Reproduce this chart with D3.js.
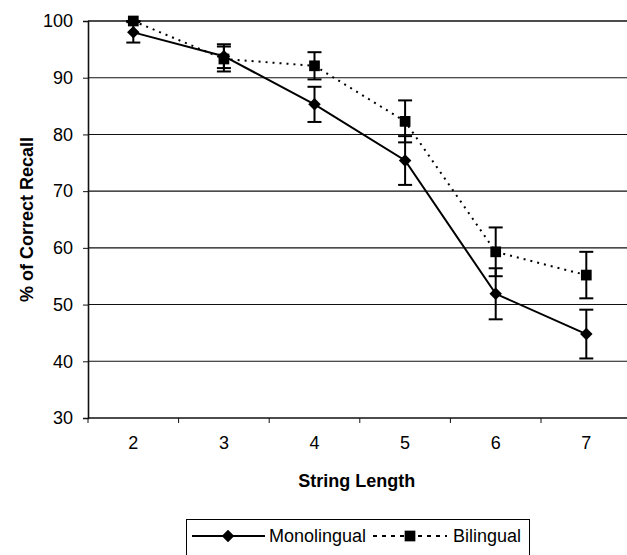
<!DOCTYPE html>
<html>
<head>
<meta charset="utf-8">
<script src="https://cdn.jsdelivr.net/npm/d3@7/dist/d3.min.js"></script>
<style>
  html, body { margin: 0; padding: 0; background: #fff; }
  svg { display: block; font-family: "Liberation Sans", Arial, sans-serif; }
</style>
</head>
<body>
<svg id="chart" width="627" height="555"></svg>
<script>
// string lengths on the x axis
const categories = [2, 3, 4, 5, 6, 7];
// % of correct recall
const monolingual = [98, 93.8, 85.3, 75.4, 51.9, 44.8];
const monolingualErr = [1.8, 2.1, 3.1, 4.3, 4.5, 4.3];
const bilingual = [100, 93.3, 92.1, 82.3, 59.3, 55.2];
const bilingualErr = [0, 2.2, 2.4, 3.7, 4.3, 4.1];
const yTicks = [30, 40, 50, 60, 70, 80, 90, 100];

const svg = d3.select('#chart');

const plotLeft = 88, plotRight = 631.6, plotTop = 21, plotBottom = 418;

const x = d3.scaleBand().domain(categories).range([plotLeft, plotRight]);
const y = d3.scaleLinear().domain([30, 100]).range([plotBottom, plotTop]);
const cx = d => x(d) + x.bandwidth() / 2;

// horizontal gridlines
svg.append('g')
  .selectAll('line')
  .data(yTicks)
  .enter()
  .append('line')
    .attr('x1', plotLeft)
    .attr('x2', plotRight)
    .attr('y1', d => y(d))
    .attr('y2', d => y(d))
    .attr('stroke', '#111')
    .attr('stroke-width', d => (d === 100 || d === 30) ? 1.6 : 1.1);

// y axis
const yAxis = svg.append('g')
  .attr('transform', `translate(${plotLeft},0)`)
  .call(d3.axisLeft(y).tickValues(yTicks).tickSize(5).tickPadding(10));
yAxis.select('.domain').attr('stroke', '#111').attr('stroke-width', 1.6);
yAxis.selectAll('.tick line').attr('stroke', '#111');
yAxis.selectAll('text')
  .attr('font-size', 18)
  .attr('font-family', '"Liberation Sans", Arial, sans-serif')
  .attr('fill', '#000');

// x axis: labels centred in bands, ticks on band edges
const xAxis = svg.append('g')
  .attr('transform', `translate(0,${plotBottom})`)
  .call(d3.axisBottom(x).tickSize(0).tickPadding(18));
xAxis.select('.domain').remove();
xAxis.selectAll('text')
  .attr('font-size', 18)
  .attr('font-family', '"Liberation Sans", Arial, sans-serif')
  .attr('fill', '#000');

const edges = categories.map(d => x(d)).concat([plotRight]);
svg.append('g')
  .selectAll('line')
  .data(edges)
  .enter()
  .append('line')
    .attr('x1', d => d)
    .attr('x2', d => d)
    .attr('y1', plotBottom)
    .attr('y2', plotBottom + 5)
    .attr('stroke', '#111');

// axis titles
svg.append('text')
  .attr('x', (plotLeft + plotRight) / 2 - 3)
  .attr('y', 487)
  .attr('text-anchor', 'middle')
  .attr('font-size', 18)
  .attr('font-weight', 'bold')
  .text('String Length');

svg.append('text')
  .attr('transform', `translate(33,${(plotTop + plotBottom) / 2}) rotate(-90)`)
  .attr('text-anchor', 'middle')
  .attr('font-size', 18)
  .attr('font-weight', 'bold')
  .text('% of Correct Recall');

const series = [
  { name: 'Bilingual', values: bilingual, err: bilingualErr, dash: '2,5', symbol: 'square' },
  { name: 'Monolingual', values: monolingual, err: monolingualErr, dash: null, symbol: 'diamond' }
];

const square = d3.symbol().type(d3.symbolSquare).size(115);
const diamond = d3.symbol().type(d3.symbolSquare).size(78);

function drawMarker(g, type, px, py) {
  g.append('path')
    .attr('d', type === 'square' ? square() : diamond())
    .attr('transform', `translate(${px},${py})` + (type === 'diamond' ? ' rotate(45)' : ''))
    .attr('fill', '#000');
}

series.forEach(s => {
  const g = svg.append('g');
  const pts = categories.map((c, i) => ({ c, v: s.values[i], e: s.err[i] }));

  g.append('path')
    .datum(pts)
    .attr('fill', 'none')
    .attr('stroke', '#000')
    .attr('stroke-width', 2)
    .attr('stroke-dasharray', s.dash)
    .attr('d', d3.line().x(d => cx(d.c)).y(d => y(d.v)));

  // error bars
  pts.forEach(d => {
    const px = cx(d.c);
    const y1 = y(Math.min(100, d.v + d.e)), y2 = y(d.v - d.e);
    g.append('line').attr('x1', px).attr('x2', px).attr('y1', y1).attr('y2', y2)
      .attr('stroke', '#000').attr('stroke-width', 2);
    [y1, y2].forEach(yy => {
      g.append('line').attr('x1', px - 7).attr('x2', px + 7).attr('y1', yy).attr('y2', yy)
        .attr('stroke', '#000').attr('stroke-width', 2);
    });
  });

  pts.forEach(d => drawMarker(g, s.symbol, cx(d.c), y(d.v)));
});

// legend
const lg = svg.append('g');
lg.append('rect')
  .attr('x', 186.5).attr('y', 519.5).attr('width', 343).attr('height', 40)
  .attr('fill', 'none').attr('stroke', '#000').attr('stroke-width', 1);

const ly = 536;
lg.append('line').attr('x1', 192).attr('x2', 265).attr('y1', ly).attr('y2', ly)
  .attr('stroke', '#000').attr('stroke-width', 2);
drawMarker(lg, 'diamond', 228, ly);
lg.append('text').attr('x', 269).attr('y', ly + 6).attr('font-size', 18).text('Monolingual');

lg.append('line').attr('x1', 373).attr('x2', 447).attr('y1', ly).attr('y2', ly)
  .attr('stroke', '#000').attr('stroke-width', 2).attr('stroke-dasharray', '4,5');
drawMarker(lg, 'square', 410, ly);
lg.append('text').attr('x', 453).attr('y', ly + 6).attr('font-size', 18).text('Bilingual');
</script>
</body>
</html>
